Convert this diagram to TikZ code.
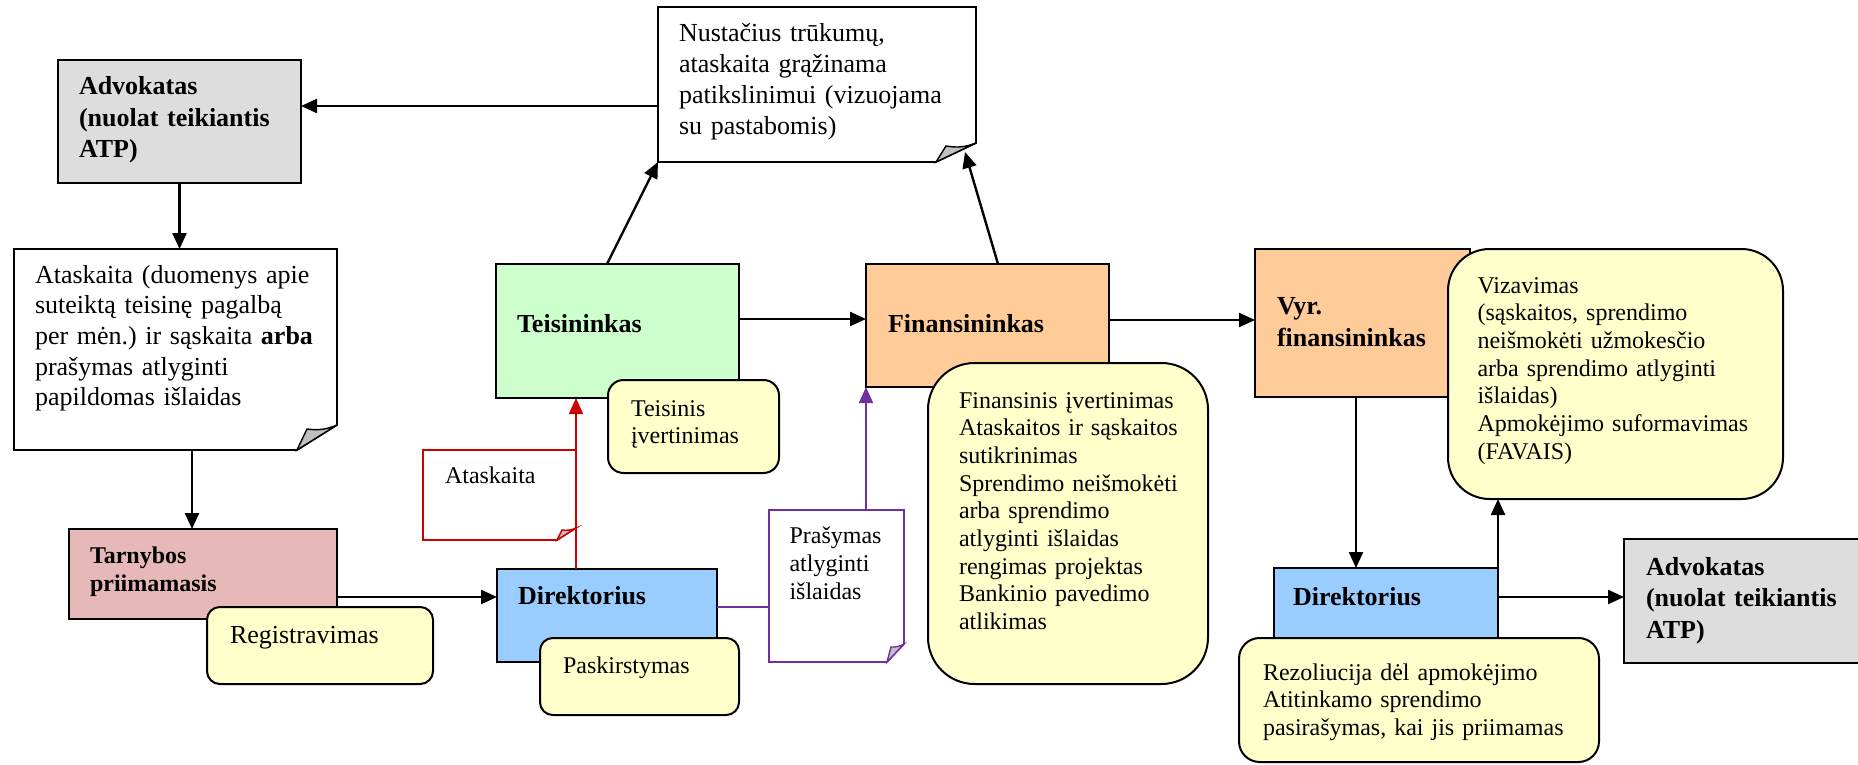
\documentclass[tikz,border=0pt]{standalone}
\usepackage{fontspec}
\setmainfont{Liberation Serif}
\usetikzlibrary{arrows.meta}
\hyphenpenalty=10000
\exhyphenpenalty=10000
\frenchspacing

\definecolor{advgray}{HTML}{DDDDDD}
\definecolor{tarnpink}{HTML}{E6B9B8}
\definecolor{teisgreen}{HTML}{CCFFCC}
\definecolor{dirblue}{HTML}{99CCFF}
\definecolor{finorange}{HTML}{FFCC99}
\definecolor{noteyellow}{HTML}{FFFFCC}
\definecolor{flapgray}{HTML}{C0C0C0}
\definecolor{docred}{HTML}{CC0000}
\definecolor{docpurple}{HTML}{7030A0}

\begin{document}
\begin{tikzpicture}[x=0.5pt, y=-0.5pt]
\tikzset{ >={Triangle[length=8pt,width=7pt]}, inner ysep=0pt, outer sep=0pt,
  role/.style={draw, line width=0.7pt, anchor=north west, align=left, font=\fontsize{13}{15.75}\selectfont\bfseries},
  note/.style={draw, line width=1pt, fill=noteyellow, anchor=north west, align=left, font=\fontsize{12}{13.85}\selectfont},
  doc/.style={anchor=north west, align=left, font=\fontsize{13}{15.5}\selectfont},
  docline/.style={line width=0.85pt},
  flap/.style={fill=flapgray, line width=0.7pt},
  link/.style={->, line width=1.2pt},
}

\useasboundingbox (0,0) rectangle (1858,765);

%\draw [lightgray, dashed] (0,0) grid[step=100] (1858,765);

% people
\node [role, fill=advgray, inner xsep=10.5pt, text width=100.5pt, text height=17.5pt, text depth=44pt] (adv) at (58,60) {Advokatas\\(nuolat teikiantis\\ATP)};
\node [role, fill=tarnpink, font=\fontsize{12}{14}\selectfont\bfseries, inner xsep=10.5pt, text width=113pt, text height=17pt, text depth=28pt] (tarn) at (69,529) {Tarnybos\\priimamasis};
\node [role, fill=teisgreen, inner xsep=10.5pt, text width=100.5pt, text height=34pt, text depth=33pt] (teis) at (496,264) {Teisininkas};
\node [role, fill=dirblue, inner xsep=10.5pt, text width=89pt, text height=17.5pt, text depth=29pt] (dir) at (497,569) {Direktorius};
\node [role, fill=finorange, inner xsep=11pt, text width=99.5pt, text height=34pt, text depth=27.5pt] (fin) at (866,264) {Finansininkas};
\node [role, fill=finorange, font=\fontsize{13}{16}\selectfont\bfseries, inner xsep=11pt, text width=85.5pt, text height=32.5pt, text depth=41.5pt] (vyr) at (1255,249) {Vyr.\\finansininkas};
\node [role, fill=dirblue, inner xsep=9.5pt, text width=93pt, text height=18.5pt, text depth=28.5pt] (dirb) at (1274,568) {Direktorius};
\node [role, fill=advgray, inner xsep=11pt, text width=103pt, text height=18pt, text depth=44pt] (advb) at (1624,539) {Advokatas\\(nuolat teikiantis\\ATP)};

% documents
\node [doc, inner xsep=10.5pt, text width=138pt, text height=17.5pt, text depth=60pt] (grazin) at (658,7) {Nustačius trūkumų,\\ataskaita grąžinama\\patikslinimui (vizuojama\\su pastabomis)};
\node [doc, font=\fontsize{13}{15.35}\selectfont, inner xsep=10.5pt, text width=140.5pt, text height=17pt, text depth=83.5pt] (atask) at (14,249) {Ataskaita~(duomenys~apie\\suteiktą teisinę pagalbą\\per~mėn.)~ir~sąskaita~\textbf{arba}\\prašymas atlyginti\\papildomas išlaidas};
\node [doc, font=\fontsize{12}{14}\selectfont, inner xsep=11pt, text width=54.5pt, text height=16.5pt, text depth=28.5pt] (ataskr) at (423,450) {Ataskaita};
\node [doc, font=\fontsize{12}{14}\selectfont, inner xsep=10.25pt, text width=47pt, text height=16.5pt, text depth=59.5pt] (prasym) at (769,510) {Prašymas\\atlyginti\\išlaidas};

\draw [docline] (grazin.north west) -- (grazin.north east) -- ([yshift=9.5pt]grazin.south east) -- ([xshift=-20pt]grazin.south east) -- (grazin.south west) -- cycle;
\draw [flap] ([xshift=-20pt]grazin.south east) -- ([xshift=-15pt,yshift=8pt]grazin.south east) to[bend right=15] ([yshift=9.5pt]grazin.south east) -- cycle;

\draw [docline] (atask.north west) -- (atask.north east) -- ([yshift=12.5pt]atask.south east) -- ([xshift=-20pt]atask.south east) -- (atask.south west) -- cycle;
\draw [flap] ([xshift=-20pt]atask.south east) -- ([xshift=-15pt,yshift=10.5pt]atask.south east) to[bend right=15] ([yshift=12.5pt]atask.south east) -- cycle;

\draw [docline, docred] (ataskr.north west) -- (ataskr.north east) -- ([yshift=6pt]ataskr.south east) -- ([xshift=-9.5pt]ataskr.south east) -- (ataskr.south west) -- cycle;
\draw [flap, draw=docred] ([xshift=-9.5pt]ataskr.south east) -- ([xshift=-7pt,yshift=5pt]ataskr.south east) to[bend right=15] ([yshift=6pt]ataskr.south east) -- cycle;

\draw [docline, docpurple] (prasym.north west) -- (prasym.north east) -- ([yshift=9pt]prasym.south east) -- ([xshift=-8.5pt]prasym.south east) -- (prasym.south west) -- cycle;
\draw [flap, draw=docpurple] ([xshift=-8.5pt]prasym.south east) -- ([xshift=-6.5pt,yshift=7.5pt]prasym.south east) to[bend right=15] ([yshift=9pt]prasym.south east) -- cycle;

% tasks
\node [note, font=\fontsize{13}{15}\selectfont, rounded corners=6.4pt, inner xsep=11.5pt, text width=90pt, text height=18pt, text depth=20.5pt] (regis) at (207,607) {Registravimas};
\node [note, rounded corners=7.75pt, inner xsep=11.5pt, text width=62.5pt, text height=18pt, text depth=28.5pt] (teisiv) at (608,380) {Teisinis\\įvertinimas};
\node [note, rounded corners=6.4pt, inner xsep=11.5pt, text width=76.5pt, text height=17.5pt, text depth=21pt] (pask) at (540,638) {Paskirstymas};
\node [note, rounded corners=23.3pt, inner xsep=15.5pt, text width=109pt, text height=22.5pt, text depth=138pt] (finiv) at (928,363) {Finansinis~įvertinimas\\Ataskaitos~ir~sąskaitos\\sutikrinimas\\Sprendimo~neišmokėti\\arba sprendimo\\atlyginti išlaidas\\rengimas projektas\\Bankinio pavedimo\\atlikimas};
\node [note, rounded corners=20.8pt, inner xsep=14.75pt, text width=138pt, text height=22pt, text depth=103pt] (viz) at (1448,249) {Vizavimas\\(sąskaitos, sprendimo\\neišmokėti užmokesčio\\arba~sprendimo~atlyginti\\išlaidas)\\Apmokėjimo~suformavimas\\(FAVAIS)};
\node [note, rounded corners=10.3pt, inner xsep=12pt, text width=156pt, text height=21pt, text depth=41pt] (rez) at (1239,638) {Rezoliucija dėl apmokėjimo\\Atitinkamo sprendimo\\pasirašymas,~kai~jis~priimamas};

% flow
\draw [link] ([yshift=-10.75pt]grazin.west) -- ([yshift=-10.75pt]grazin.west -| adv.east);
\draw [link] (adv.south) -- (adv.south |- atask.north);
\draw [link] ([xshift=8.25pt]atask.south) -- ([xshift=8.25pt]atask.south |- tarn.north);
\draw [link] ([yshift=-11.5pt]tarn.east) -- ([yshift=-11.5pt]tarn.east -| dir.west);
\draw [link] ([xshift=-5.25pt]teis.north) -- (grazin.south west);
\draw [link] ([yshift=6pt]teis.east) -- ([yshift=6pt]teis.east -| fin.west);
\draw [link] ([xshift=5.25pt]fin.north) -- ([xshift=-5.5pt,yshift=5pt]grazin.south east);
\draw [link] ([yshift=2.75pt]fin.east) -- ([yshift=2.75pt]fin.east -| vyr.west);
\draw [link] ([xshift=50.5pt]vyr.south west) -- ([xshift=50.5pt]vyr.south west |- dirb.north);
\draw [link] (dirb.north east) -- (dirb.north east |- viz.south);
\draw [link] ([yshift=9pt]dirb.east) -- ([yshift=9pt]dirb.east -| advb.west);

\draw [link, docred, line width=0.85pt] (ataskr.east |- dir.north) -- (ataskr.east |- teis.south);
\draw [docpurple, line width=0.85pt] ([yshift=4.25pt]dir.east) -- ([yshift=4.25pt]dir.east -| prasym.west);
\draw [link, docpurple, line width=0.85pt] (fin.south west |- prasym.north) -- (fin.south west);

\end{tikzpicture}
\end{document}
